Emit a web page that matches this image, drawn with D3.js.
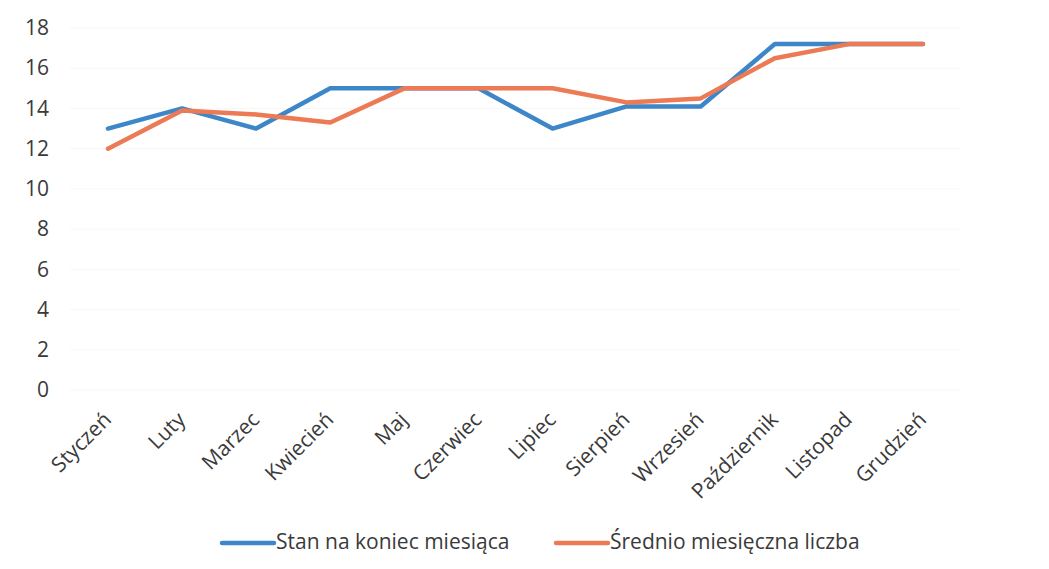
<!DOCTYPE html>
<html><head><meta charset="utf-8">
<script src="https://cdn.jsdelivr.net/npm/d3@7"></script>
<style>body{margin:0;background:#fff}svg{display:block}</style>
</head><body>
<svg id="c" width="1049" height="569"></svg>
<script>
const months = ["Styczeń","Luty","Marzec","Kwiecień","Maj","Czerwiec","Lipiec","Sierpień","Wrzesień","Październik","Listopad","Grudzień"];
const stan = [13,14,13,15,15,15,13,14.1,14.1,17.2,17.2,17.2];
const srednio = [12,13.9,13.7,13.3,15,15,15,14.3,14.5,16.5,17.2,17.2];
const yTicks = [0,2,4,6,8,10,12,14,16,18];
const seriesNames = ["Stan na koniec miesiąca","Średnio miesięczna liczba"];
const colors = ["#3d87c9","#ec7b55"];

const svg = d3.select("#c");
const font = "'Open Sans', sans-serif";
const x = d3.scalePoint().domain(months).range([108, 923]);
const y = d3.scaleLinear().domain([0,18]).range([390, 28]);

// gridlines (faint)
svg.append("g").selectAll("line").data(yTicks).join("line")
  .attr("x1",70).attr("x2",960).attr("y1",d=>y(d)).attr("y2",d=>y(d))
  .attr("stroke","#f7f7f7").attr("stroke-width",1);

// y axis
const ya = svg.append("g").attr("transform","translate(50,0)")
  .call(d3.axisLeft(y).tickValues(yTicks).tickSize(0).tickPadding(1));
ya.select(".domain").remove();
ya.selectAll("text").attr("font-family",font).attr("font-size",21).attr("fill","#3a3a3a");

// x axis
const xa = svg.append("g").attr("transform","translate(0,398)")
  .call(d3.axisBottom(x).tickSize(0).tickPadding(0));
xa.select(".domain").remove();
xa.selectAll("text").attr("font-family",font).attr("font-size",21).attr("fill","#3a3a3a")
  .attr("text-anchor","end").attr("dy",0).attr("y",0)
  .attr("transform","translate(4,23) rotate(-45)");

const line = d3.line().x((d,i)=>x(months[i])).y(d=>y(d));
[stan, srednio].forEach((s,k)=>{
  svg.append("path").datum(s).attr("d",line).attr("fill","none")
    .attr("stroke",colors[k]).attr("stroke-width",4.5).attr("stroke-linejoin","round").attr("stroke-linecap","round");
});

// legend
const leg = [{x:222,tx:276},{x:556,tx:610}];
seriesNames.forEach((n,k)=>{
  svg.append("line").attr("x1",leg[k].x).attr("x2",leg[k].x+52).attr("y1",543).attr("y2",543)
    .attr("stroke",colors[k]).attr("stroke-width",4.5).attr("stroke-linecap","round");
  svg.append("text").attr("x",leg[k].tx).attr("y",542).attr("dy","0.35em")
    .attr("font-family",font).attr("font-size",21).attr("fill","#3a3a3a").text(n);
});
</script>
</body></html>
